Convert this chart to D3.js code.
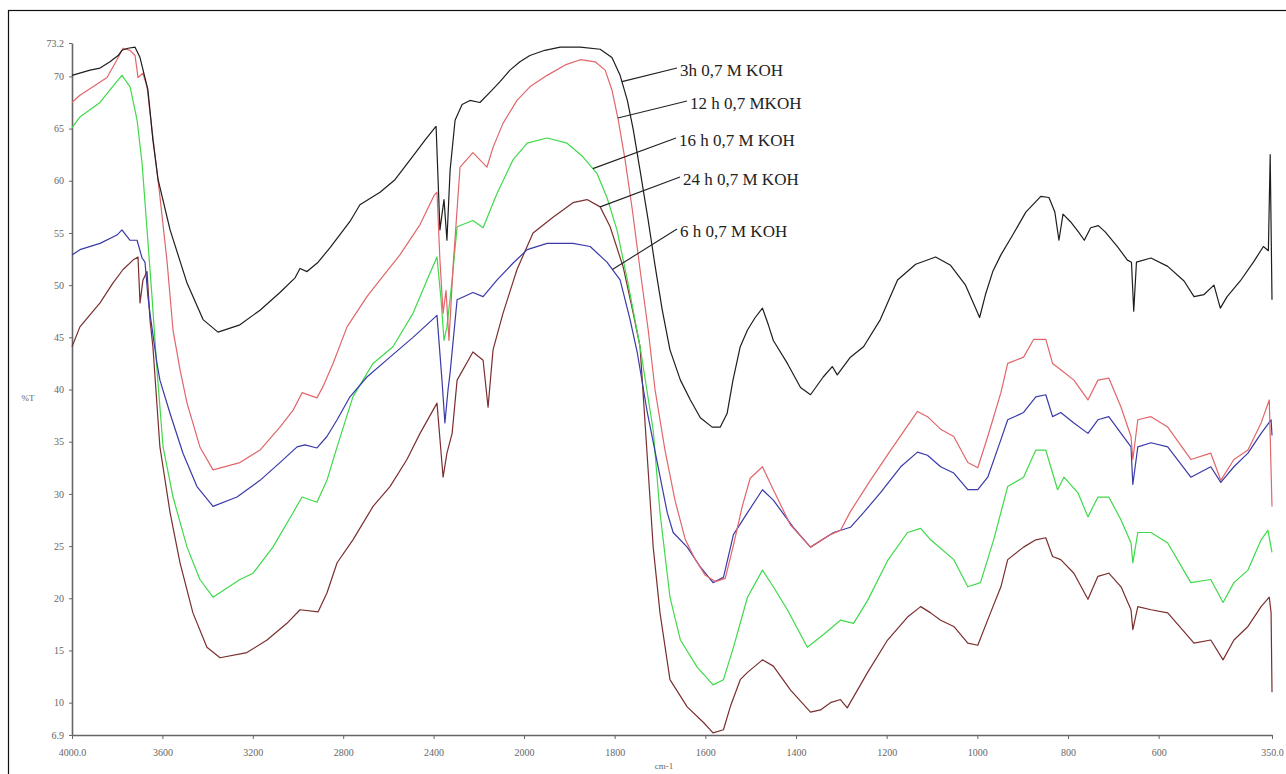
<!DOCTYPE html>
<html>
<head>
<meta charset="utf-8">
<script src="https://cdn.jsdelivr.net/npm/d3@7"></script>
<style>
  body { margin: 0; background: #fff; }
  svg { display: block; }
  .axis text { font-family: "Liberation Serif", "DejaVu Serif", serif; font-size: 10px; fill: #666; }
  .axis path, .axis line { stroke: #666; }
</style>
</head>
<body>
<svg id="chart" width="1286" height="774"></svg>
<script>
// spectra: [wavenumber cm-1, %T]
var s3h = [[4000,70.1],[3920,70.6],[3876,70.8],[3832,71.4],[3796,72.0],[3779,72.5],[3752,72.7],[3721,72.8],[3699,71.8],[3664,68.7],[3642,63.9],[3619,60.1],[3566,55.3],[3491,50.2],[3420,46.7],[3354,45.5],[3257,46.2],[3168,47.6],[3080,49.3],[3013,50.7],[2991,51.6],[2960,51.3],[2911,52.2],[2858,53.6],[2770,56.1],[2726,57.7],[2637,58.9],[2571,60.1],[2504,62.0],[2438,63.9],[2394,65.1],[2389,65.2],[2372,55.3],[2354,58.2],[2341,54.3],[2327,61.0],[2305,65.8],[2274,67.3],[2239,67.7],[2195,67.5],[2150,68.5],[2106,69.5],[2062,70.6],[2018,71.4],[1987,72.0],[1954,72.5],[1920,72.8],[1876,72.8],[1832,72.6],[1806,71.8],[1788,70.1],[1772,67.7],[1759,64.9],[1744,61.0],[1726,56.2],[1711,51.9],[1695,47.6],[1678,43.8],[1655,40.9],[1633,39.0],[1611,37.3],[1585,36.4],[1567,36.4],[1552,37.7],[1539,40.9],[1523,44.1],[1507,45.7],[1490,46.9],[1474,47.8],[1461,46.2],[1450,44.7],[1419,42.5],[1390,40.2],[1368,39.5],[1340,41.2],[1320,42.2],[1309,41.4],[1280,43.1],[1251,44.1],[1214,46.7],[1176,50.5],[1136,52.0],[1092,52.7],[1059,51.9],[1026,50.0],[1004,47.8],[995,46.9],[982,49.1],[966,51.3],[948,52.9],[922,54.8],[893,57.0],[860,58.5],[842,58.4],[829,57.0],[820,54.3],[811,56.8],[795,56.1],[777,55.1],[764,54.3],[750,55.5],[733,55.7],[718,55.1],[691,53.7],[669,52.4],[660,52.2],[655,47.5],[649,52.2],[617,52.6],[580,51.8],[544,50.4],[522,48.9],[500,49.1],[478,50.0],[464,47.8],[449,48.9],[420,50.4],[391,52.2],[369,53.7],[358,53.3],[354,62.5],[350,48.6]];

var s12h = [[4000,67.5],[3965,68.2],[3907,69.0],[3845,69.9],[3801,71.6],[3774,72.7],[3743,72.5],[3721,72.0],[3708,69.9],[3686,70.3],[3668,69.0],[3646,64.9],[3611,58.5],[3580,52.4],[3553,45.7],[3522,41.9],[3491,38.7],[3434,34.5],[3376,32.3],[3257,33.0],[3168,34.2],[3080,36.4],[3022,38.0],[2982,39.7],[2916,39.2],[2889,40.3],[2845,42.5],[2783,46.0],[2695,48.9],[2637,50.5],[2549,52.9],[2460,55.8],[2398,58.6],[2385,58.9],[2372,52.4],[2358,47.3],[2345,49.5],[2332,44.7],[2314,51.7],[2283,61.3],[2226,62.7],[2164,61.3],[2137,63.2],[2093,65.5],[2031,67.7],[1987,69.0],[1949,70.1],[1909,71.1],[1876,71.6],[1843,71.4],[1821,70.6],[1806,68.7],[1792,65.8],[1777,62.0],[1761,57.2],[1744,51.5],[1726,45.7],[1711,40.0],[1689,34.2],[1667,29.4],[1644,25.6],[1622,23.7],[1600,22.2],[1578,21.6],[1556,21.9],[1538,25.1],[1518,28.9],[1501,31.5],[1474,32.6],[1450,30.4],[1412,27.0],[1368,24.9],[1324,26.1],[1302,26.5],[1280,28.3],[1236,31.3],[1191,34.2],[1132,37.9],[1110,37.4],[1081,36.2],[1052,35.5],[1021,33.0],[999,32.5],[977,35.5],[948,39.7],[933,42.5],[898,43.1],[876,44.8],[849,44.8],[834,42.5],[816,41.9],[787,40.9],[756,39.0],[734,40.9],[710,41.1],[683,38.3],[661,35.5],[657,33.3],[646,37.1],[617,37.4],[580,36.4],[529,33.3],[485,33.9],[463,31.3],[434,33.3],[403,34.2],[374,36.8],[356,39.0],[350,28.8]];

var s16h = [[4000,65.1],[3965,66.1],[3876,67.5],[3832,68.7],[3779,70.1],[3743,69.0],[3712,65.8],[3690,61.7],[3668,55.3],[3646,48.9],[3624,41.9],[3597,34.5],[3553,29.7],[3491,24.9],[3434,21.8],[3376,20.1],[3257,21.8],[3199,22.4],[3111,24.9],[3022,28.2],[2982,29.7],[2916,29.2],[2872,31.3],[2827,34.5],[2757,39.3],[2668,42.5],[2580,44.1],[2491,47.3],[2429,50.5],[2385,52.7],[2367,48.6],[2354,44.7],[2341,46.0],[2318,50.5],[2296,55.6],[2226,56.2],[2181,55.5],[2119,58.8],[2049,62.0],[1993,63.6],[1949,64.1],[1905,63.6],[1870,62.3],[1839,60.7],[1817,58.4],[1795,55.3],[1772,50.5],[1744,44.1],[1715,36.1],[1700,28.2],[1678,20.1],[1655,16.0],[1618,13.4],[1583,11.7],[1560,12.2],[1538,15.3],[1507,20.1],[1474,22.7],[1450,21.1],[1419,18.9],[1375,15.3],[1340,16.5],[1302,17.9],[1273,17.6],[1242,19.8],[1198,23.6],[1154,26.3],[1125,26.7],[1103,25.6],[1052,23.7],[1021,21.1],[993,21.5],[964,25.6],[933,30.7],[898,31.6],[871,34.2],[849,34.2],[834,32.0],[823,30.4],[809,31.6],[778,30.1],[756,27.8],[734,29.7],[710,29.7],[683,27.5],[661,25.3],[657,23.4],[646,26.3],[617,26.3],[580,25.3],[529,21.5],[485,21.8],[458,19.6],[434,21.5],[403,22.7],[374,25.6],[359,26.5],[350,24.4]];

var s24h = [[4000,44.1],[3965,46.0],[3876,48.3],[3819,50.2],[3774,51.5],[3730,52.4],[3708,52.7],[3699,48.3],[3686,50.5],[3668,51.3],[3655,46.7],[3642,44.1],[3611,34.5],[3566,28.2],[3522,23.4],[3465,18.6],[3403,15.3],[3345,14.3],[3226,14.8],[3137,16.0],[3049,17.6],[2991,18.9],[2911,18.7],[2872,20.5],[2827,23.4],[2757,25.6],[2668,28.8],[2593,30.7],[2518,33.3],[2460,35.8],[2385,38.7],[2358,31.6],[2341,33.9],[2318,35.8],[2296,40.9],[2226,43.6],[2181,42.8],[2159,38.3],[2137,43.8],[2093,47.3],[2031,51.5],[1980,55.0],[1936,56.5],[1892,57.9],[1861,58.2],[1832,57.5],[1810,55.6],[1781,51.7],[1759,47.3],[1744,44.1],[1715,24.9],[1700,18.6],[1678,12.2],[1640,9.6],[1604,8.1],[1583,7.1],[1560,7.4],[1545,9.6],[1523,12.2],[1507,12.9],[1474,14.1],[1450,13.5],[1412,11.2],[1368,9.1],[1346,9.3],[1324,10.0],[1302,10.3],[1287,9.5],[1242,12.9],[1198,16.0],[1154,18.2],[1125,19.2],[1103,18.6],[1081,17.9],[1052,17.3],[1021,15.7],[999,15.5],[971,18.6],[948,21.1],[933,23.7],[898,24.9],[871,25.6],[849,25.8],[834,24.0],[816,23.7],[787,22.4],[756,19.9],[734,22.1],[710,22.4],[683,21.1],[661,18.9],[657,17.0],[646,19.2],[617,18.9],[580,18.6],[522,15.7],[485,16.0],[458,14.1],[434,16.0],[403,17.3],[374,19.2],[356,20.1],[352,18.6],[350,11.0]];

var s6h = [[4000,52.9],[3965,53.4],[3876,54.0],[3801,54.8],[3779,55.3],[3743,54.3],[3712,54.3],[3690,52.6],[3677,52.2],[3664,48.9],[3655,47.3],[3624,42.5],[3611,40.9],[3566,37.7],[3509,33.9],[3447,30.7],[3376,28.8],[3270,29.7],[3168,31.3],[3080,33.0],[3004,34.5],[2969,34.7],[2916,34.4],[2872,35.5],[2827,37.1],[2770,39.3],[2695,41.2],[2593,43.1],[2491,45.0],[2385,47.1],[2363,40.9],[2350,36.8],[2336,40.0],[2327,41.6],[2296,48.6],[2226,49.3],[2181,48.9],[2119,50.5],[2049,52.1],[1993,53.4],[1949,54.0],[1892,54.0],[1854,53.7],[1817,52.2],[1788,50.5],[1766,46.7],[1750,43.5],[1728,37.8],[1706,33.0],[1684,28.2],[1671,26.3],[1640,24.9],[1611,23.0],[1583,21.5],[1560,22.0],[1538,26.1],[1507,28.2],[1474,30.4],[1450,29.4],[1406,26.8],[1368,24.9],[1317,26.3],[1280,26.8],[1251,28.2],[1214,30.1],[1169,32.6],[1132,34.0],[1110,33.7],[1081,32.6],[1052,32.0],[1021,30.4],[999,30.4],[977,31.6],[948,35.2],[933,37.1],[898,37.8],[871,39.3],[849,39.5],[834,37.4],[816,37.8],[787,36.8],[756,35.8],[734,37.1],[710,37.4],[683,35.8],[661,34.5],[657,30.9],[646,34.5],[617,34.9],[580,34.5],[529,31.6],[485,32.6],[463,31.1],[434,32.6],[403,33.9],[374,35.8],[352,37.1],[350,35.6]];

var seriesNames = ['24 h 0,7 M KOH', '16 h 0,7 M KOH', '6 h 0,7 M KOH', '12 h 0,7 MKOH', '3h 0,7 M KOH'];
var seriesData = [s24h, s16h, s6h, s12h, s3h];
var seriesColors = ['#7a2e2e', '#3fd94a', '#3a3aa8', '#e0666a', '#1e1e1e'];

var xTicks = [4000, 3600, 3200, 2800, 2400, 2000, 1800, 1600, 1400, 1200, 1000, 800, 600, 350];
var xTickLabels = ['4000.0', '3600', '3200', '2800', '2400', '2000', '1800', '1600', '1400', '1200', '1000', '800', '600', '350.0'];
var yTicks = [73.2, 70, 65, 60, 55, 50, 45, 40, 35, 30, 25, 20, 15, 10, 6.9];

// label, wavenumber where its leader line meets the curve, text position
var labels = [
  { name: '3h 0,7 M KOH',   tip: 1784, tx: 680, ty: 76 },
  { name: '12 h 0,7 MKOH',  tip: 1793, tx: 690, ty: 109 },
  { name: '16 h 0,7 M KOH', tip: 1848, tx: 679, ty: 146 },
  { name: '24 h 0,7 M KOH', tip: 1832, tx: 683, ty: 185 },
  { name: '6 h 0,7 M KOH',  tip: 1805, tx: 680, ty: 237 }
];

var svg = d3.select('#chart');

// frame around the picture
svg.append('rect')
  .attr('x', 8.5).attr('y', 10.5)
  .attr('width', 1300).attr('height', 800)
  .attr('fill', 'none').attr('stroke', '#111').attr('stroke-width', 1.2);

// the wavenumber axis changes scale at 2000 cm-1
var x = d3.scaleLinear().domain([4000, 2000, 350]).range([72, 524, 1272]);
var y = d3.scaleLinear().domain([73.2, 6.9]).range([43, 735]);

var xAxis = d3.axisBottom(x)
  .tickValues(xTicks)
  .tickFormat(function (d, i) { return xTickLabels[i]; })
  .tickSize(4).tickSizeOuter(0).tickPadding(10);
var yAxis = d3.axisLeft(y)
  .tickValues(yTicks)
  .tickFormat(function (d) { return String(d); })
  .tickSize(3).tickSizeOuter(0).tickPadding(5);

svg.append('g')
  .attr('class', 'axis')
  .attr('transform', 'translate(0,' + y(6.9) + ')')
  .call(xAxis)
  .select('.domain').attr('stroke-width', 1.6);
svg.append('g')
  .attr('class', 'axis')
  .attr('transform', 'translate(' + x(4000) + ',0)')
  .call(yAxis)
  .select('.domain').attr('stroke-width', 1.6);

var line = d3.line()
  .x(function (d) { return x(d[0]); })
  .y(function (d) { return y(d[1]); });

svg.selectAll('path.spectrum')
  .data(seriesData)
  .enter()
  .append('path')
  .attr('class', 'spectrum')
  .attr('d', line)
  .attr('fill', 'none')
  .attr('stroke', function (d, i) { return seriesColors[i]; })
  .attr('stroke-width', 1.2)
  .attr('stroke-linejoin', 'round');

// %T value of a series at a given wavenumber
function valueAt(series, wn) {
  for (var i = 0; i < series.length - 1; i++) {
    var a = series[i], b = series[i + 1];
    if (wn <= a[0] && wn >= b[0]) {
      var t = (a[0] - wn) / (a[0] - b[0]);
      return a[1] + t * (b[1] - a[1]);
    }
  }
  return series[series.length - 1][1];
}

labels.forEach(function (l) {
  var series = seriesData[seriesNames.indexOf(l.name)];
  svg.append('line')
    .attr('x1', l.tx - 3).attr('y1', l.ty - 8)
    .attr('x2', x(l.tip)).attr('y2', y(valueAt(series, l.tip)))
    .attr('stroke', '#222').attr('stroke-width', 1.1);
  svg.append('text')
    .attr('x', l.tx).attr('y', l.ty)
    .attr('font-family', '"Liberation Serif", serif')
    .attr('font-size', '17px')
    .attr('fill', '#222')
    .text(l.name);
});

svg.append('text')
  .attr('x', 28).attr('y', 401)
  .attr('text-anchor', 'middle')
  .attr('font-family', '"Liberation Serif", serif')
  .attr('font-size', '9px')
  .attr('fill', '#666')
  .text('%T');
svg.append('text')
  .attr('x', 664).attr('y', 769)
  .attr('text-anchor', 'middle')
  .attr('font-family', '"Liberation Serif", serif')
  .attr('font-size', '9px')
  .attr('fill', '#666')
  .text('cm-1');
</script>
</body>
</html>
